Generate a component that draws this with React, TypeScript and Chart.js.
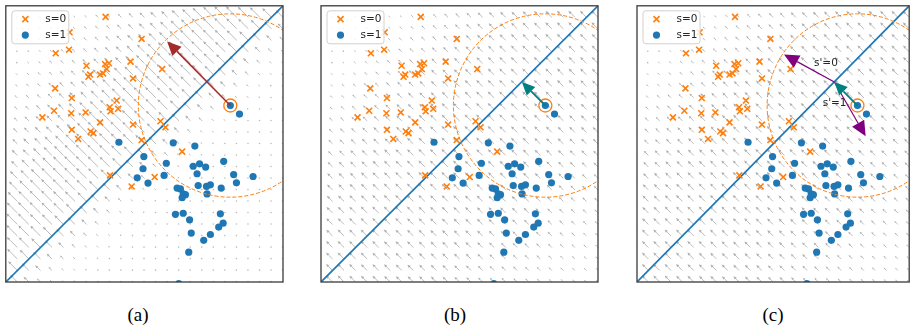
import React, { useEffect, useRef } from "react";
import { Chart, registerables } from "chart.js";

Chart.register(...registerables);

// ---------- data ----------
const group0X = [36.0, 23.0, 18.0, 22.8, 49.0, 29.1, 35.8, 37.2, 36.4, 45.0, 29.8, 30.4, 34.0, 35.1, 56.4, 45.9, 17.8, 23.8, 40.0, 37.5, 37.8, 40.5, 17.4, 23.6, 28.8, 13.2, 34.0, 45.9, 55.8, 57.6, 23.8, 30.6, 31.6, 26.1, 49.0, 63.6, 37.6, 53.7, 45.4];
const group0Y = [96.0, 90.4, 82.8, 84.1, 88.0, 78.3, 78.9, 79.2, 77.1, 79.8, 74.3, 75.1, 75.1, 75.5, 77.1, 73.7, 70.1, 66.6, 65.7, 63.3, 61.8, 62.7, 62.0, 61.1, 61.4, 59.6, 57.8, 57.0, 58.2, 56.0, 55.1, 54.5, 53.9, 51.8, 51.4, 47.2, 38.6, 38.0, 34.6];

const group1X = [81.0, 84.3, 40.8, 60.4, 68.2, 49.8, 78.6, 57.9, 67.6, 69.9, 72.1, 49.5, 69.0, 57.1, 82.2, 89.2, 47.4, 83.2, 51.3, 69.4, 72.4, 73.8, 77.7, 61.8, 63.0, 72.6, 64.0, 64.8, 63.6, 61.2, 64.0, 77.4, 66.3, 78.4, 76.8, 66.9, 73.8, 71.4, 66.0, 62.4];
const group1Y = [63.9, 60.8, 50.6, 50.4, 49.2, 45.4, 43.7, 43.0, 41.9, 42.8, 41.6, 41.0, 39.2, 38.6, 38.9, 38.2, 37.7, 35.9, 35.8, 34.9, 34.6, 35.2, 34.0, 34.0, 33.7, 31.9, 31.9, 31.6, 30.5, 24.5, 24.9, 24.7, 22.5, 21.3, 19.9, 17.7, 17.2, 15.1, 10.8, -0.6];

const boundaryX = [0, 100];
const boundaryY = [0, 100];

const axisMin = 0;
const axisMax = 100;

const highlightPoint = [81.0, 63.9];
const regionRadius = 33.2;

const arrowTipA = [58.2, 87.1];
const projectionPoint = [72.5, 72.4];
const counterfactual0 = [54.0, 82.4];
const counterfactual1 = [84.0, 52.8];

const noteLabels = ["s'=0", "s'=1"];
const notePositions = [
  [69.4, 79.3],
  [72.6, 64.7],
];

const legendLabels = ["s=0", "s=1"];
const panelLabels = ["(a)", "(b)", "(c)"];

// quiver grid: 25 x 25 points; magnitude per diagonal (row - col) from -24 .. 24
const gridCount = 25;
const quiverA = [
  0.4, 0.4, 0.4, 0.4, 0.4, 0.4, 0.4, 0.4, 0.4, 0.4, 0.4, 0.4, 0.4, 0.4, 0.4, 0.4, 0.4, 0.4,
  0.7, 0.9, 1.1, 1.8, 2.7, 3.6,
  4.7,
  5.2, 5.4, 5.6, 5.6, 5.4, 4.9, 4.3, 3.8, 3.2, 2.9, 2.5, 2.2, 1.8, 1.6, 1.4, 1.1, 0.9, 0.7, 0.5, 0.4, 0.4, 0.4, 0.4, 0.4,
];
const quiverB = [
  1.1, 1.2, 1.3, 1.4, 1.5, 1.7, 1.8, 1.9, 2.1, 2.2, 2.3, 2.4, 2.6, 2.7, 2.8, 2.9, 2.9, 3.0, 3.1, 3.2, 3.2, 3.2, 3.3, 3.3,
  3.3,
  3.3, 3.3, 3.2, 3.2, 3.1, 2.9, 2.8, 2.7, 2.5, 2.3, 2.1, 1.9, 1.7, 1.4, 1.2, 1.0, 0.9, 0.7, 0.6, 0.5, 0.4, 0.3, 0.3, 0.2,
];
const quiverC = [
  1.2, 1.3, 1.4, 1.5, 1.6, 1.7, 1.8, 2.0, 2.1, 2.2, 2.4, 2.5, 2.6, 2.7, 2.8, 2.9, 3.0, 3.1, 3.1, 3.2, 3.2, 3.3, 3.3, 3.3,
  3.3,
  3.3, 3.3, 3.3, 3.2, 3.1, 3.0, 2.9, 2.7, 2.6, 2.4, 2.2, 2.0, 1.8, 1.5, 1.3, 1.1, 0.9, 0.7, 0.6, 0.5, 0.4, 0.3, 0.3, 0.2,
];

// ---------- styles ----------
const ORANGE = "#ff7f0e";
const BLUE = "#1f77b4";
const TEXT = "#262626";

type ArrowSpec = { from: number[]; to: number[]; color: string; lw: number; headLen: number; headW: number };

const panels = [
  {
    left: 0,
    width: 292,
    pad: { left: 5, right: 9, top: 5, bottom: 8 },
    quiver: quiverA,
    arrows: [
      { from: highlightPoint, to: arrowTipA, color: "#a52a2a", lw: 1.5, headLen: 14, headW: 13 },
    ] as ArrowSpec[],
    notes: false,
    labelX: 138,
  },
  {
    left: 314,
    width: 290,
    pad: { left: 7, right: 6, top: 5, bottom: 8 },
    quiver: quiverB,
    arrows: [
      { from: highlightPoint, to: projectionPoint, color: "#008080", lw: 1.8, headLen: 13, headW: 12 },
    ] as ArrowSpec[],
    notes: false,
    labelX: 455,
  },
  {
    left: 630,
    width: 285,
    pad: { left: 7, right: 2, top: 5, bottom: 8 },
    quiver: quiverC,
    arrows: [
      { from: projectionPoint, to: counterfactual0, color: "#800080", lw: 1.2, headLen: 15, headW: 14 },
      { from: projectionPoint, to: counterfactual1, color: "#800080", lw: 1.2, headLen: 15, headW: 14 },
      { from: highlightPoint, to: projectionPoint, color: "#008080", lw: 1.8, headLen: 13, headW: 12 },
    ] as ArrowSpec[],
    notes: true,
    labelX: 773,
  },
];

function drawArrowPx(ctx: CanvasRenderingContext2D, x0: number, y0: number, x1: number, y1: number, color: string, lw: number, hl: number, hw: number) {
  const len = Math.hypot(x1 - x0, y1 - y0);
  if (len < 0.01) return;
  const ux = (x1 - x0) / len;
  const uy = (y1 - y0) / len;
  const h = Math.min(hl, len);
  const bx = x1 - ux * h;
  const by = y1 - uy * h;
  ctx.strokeStyle = color;
  ctx.fillStyle = color;
  ctx.lineWidth = lw;
  ctx.beginPath();
  ctx.moveTo(x0, y0);
  ctx.lineTo(bx, by);
  ctx.stroke();
  ctx.beginPath();
  ctx.moveTo(x1, y1);
  ctx.lineTo(bx - uy * hw / 2, by + ux * hw / 2);
  ctx.lineTo(bx + uy * hw / 2, by - ux * hw / 2);
  ctx.closePath();
  ctx.fill();
}

function makePlugin(cfg: typeof panels[number]) {
  return {
    id: "panelDecor",
    beforeDatasetsDraw(chart: any) {
      const { ctx, chartArea: a } = chart;
      const sx = chart.scales.x;
      const sy = chart.scales.y;
      ctx.save();
      ctx.beginPath();
      ctx.rect(a.left, a.top, a.right - a.left, a.bottom - a.top);
      ctx.clip();
      const n = gridCount;
      for (let i = 0; i < n; i++) {
        for (let j = 0; j < n; j++) {
          const gx = axisMin + ((axisMax - axisMin) * i) / (n - 1);
          const gy = axisMin + ((axisMax - axisMin) * j) / (n - 1);
          const m = cfg.quiver[j - i + n - 1];
          const d = m / Math.SQRT2;
          const x0 = sx.getPixelForValue(gx);
          const y0 = sy.getPixelForValue(gy);
          const x1 = sx.getPixelForValue(gx - d);
          const y1 = sy.getPixelForValue(gy + d);
          const len = Math.hypot(x1 - x0, y1 - y0);
          if (len < 2.2) {
            ctx.fillStyle = "rgba(120,120,120,0.5)";
            ctx.beginPath();
            ctx.arc((x0 + x1) / 2, (y0 + y1) / 2, 0.8, 0, Math.PI * 2);
            ctx.fill();
          } else {
            const hl = Math.min(3.2, len * 0.4);
            drawArrowPx(ctx, x0, y0, x1, y1, "rgba(95,95,95,0.5)", 0.85, hl, hl * 0.9);
          }
        }
      }
      ctx.restore();
    },
    afterDatasetsDraw(chart: any) {
      const { ctx, chartArea: a } = chart;
      const sx = chart.scales.x;
      const sy = chart.scales.y;
      ctx.save();
      ctx.beginPath();
      ctx.rect(a.left, a.top, a.right - a.left, a.bottom - a.top);
      ctx.clip();

      // dashed neighbourhood circle
      const cx = sx.getPixelForValue(highlightPoint[0]);
      const cy = sy.getPixelForValue(highlightPoint[1]);
      const rx = Math.abs(sx.getPixelForValue(highlightPoint[0] + regionRadius) - cx);
      const ry = Math.abs(sy.getPixelForValue(highlightPoint[1] + regionRadius) - cy);
      ctx.strokeStyle = ORANGE;
      ctx.lineWidth = 1;
      ctx.setLineDash([4, 2]);
      ctx.beginPath();
      ctx.ellipse(cx, cy, rx, ry, 0, 0, Math.PI * 2);
      ctx.stroke();
      ctx.setLineDash([]);

      // ring around highlighted point
      ctx.lineWidth = 1.3;
      ctx.beginPath();
      ctx.arc(cx, cy, 6.5, 0, Math.PI * 2);
      ctx.stroke();

      // arrows
      for (const ar of cfg.arrows) {
        drawArrowPx(
          ctx,
          sx.getPixelForValue(ar.from[0]),
          sy.getPixelForValue(ar.from[1]),
          sx.getPixelForValue(ar.to[0]),
          sy.getPixelForValue(ar.to[1]),
          ar.color,
          ar.lw,
          ar.headLen,
          ar.headW
        );
      }

      // notes
      if (cfg.notes) {
        ctx.fillStyle = TEXT;
        ctx.font = '10.5px "DejaVu Sans"';
        ctx.textAlign = "center";
        ctx.textBaseline = "middle";
        noteLabels.forEach((t, k) => {
          ctx.fillText(t, sx.getPixelForValue(notePositions[k][0]), sy.getPixelForValue(notePositions[k][1]));
        });
      }
      ctx.restore();

      // legend
      ctx.save();
      const lx = a.left + 6;
      const ly = a.top + 5;
      const lw = 57;
      const lh = 33;
      ctx.fillStyle = "rgba(255,255,255,0.82)";
      ctx.strokeStyle = "#d0d0d0";
      ctx.lineWidth = 1;
      ctx.beginPath();
      (ctx as any).roundRect(lx, ly, lw, lh, 3);
      ctx.fill();
      ctx.stroke();
      const mx = a.left + 19.5;
      const r1 = a.top + 13.3;
      const r2 = a.top + 29.3;
      ctx.strokeStyle = ORANGE;
      ctx.lineWidth = 1.6;
      ctx.beginPath();
      ctx.moveTo(mx - 3, r1 - 3);
      ctx.lineTo(mx + 3, r1 + 3);
      ctx.moveTo(mx - 3, r1 + 3);
      ctx.lineTo(mx + 3, r1 - 3);
      ctx.stroke();
      ctx.fillStyle = BLUE;
      ctx.beginPath();
      ctx.arc(mx, r2, 3.6, 0, Math.PI * 2);
      ctx.fill();
      ctx.fillStyle = TEXT;
      ctx.font = '10.5px "DejaVu Sans"';
      ctx.textAlign = "left";
      ctx.textBaseline = "middle";
      ctx.fillText(legendLabels[0], a.left + 39.5, r1 + 0.5);
      ctx.fillText(legendLabels[1], a.left + 39.5, r2 + 0.5);

      // frame
      ctx.strokeStyle = "#3a3a3a";
      ctx.lineWidth = 1.3;
      ctx.strokeRect(a.left, a.top, a.right - a.left, a.bottom - a.top);
      ctx.restore();
    },
  };
}

function Panel({ cfg }: { cfg: typeof panels[number] }) {
  const ref = useRef<HTMLCanvasElement | null>(null);
  useEffect(() => {
    if (!ref.current) return;
    const chart = new Chart(ref.current, {
      type: "scatter",
      data: {
        datasets: [
          {
            label: legendLabels[0],
            data: group0X.map((x, i) => ({ x, y: group0Y[i] })),
            pointStyle: "crossRot",
            pointRadius: 4.2,
            borderColor: ORANGE,
            backgroundColor: ORANGE,
            borderWidth: 1.6,
            clip: 0,
            order: 1,
          },
          {
            label: legendLabels[1],
            data: group1X.map((x, i) => ({ x, y: group1Y[i] })),
            pointStyle: "circle",
            pointRadius: 3.6,
            borderWidth: 0,
            backgroundColor: BLUE,
            borderColor: BLUE,
            clip: 0,
            order: 2,
          },
          {
            type: "line",
            label: "boundary",
            data: boundaryX.map((x, i) => ({ x, y: boundaryY[i] })),
            borderColor: BLUE,
            borderWidth: 1.7,
            pointRadius: 0,
            fill: false,
            clip: 0,
            order: 3,
          } as any,
        ],
      },
      options: {
        responsive: false,
        animation: false,
        devicePixelRatio: 1,
        events: [],
        layout: { padding: cfg.pad },
        scales: {
          x: { type: "linear", min: axisMin, max: axisMax, display: false },
          y: { type: "linear", min: axisMin, max: axisMax, display: false },
        },
        plugins: {
          legend: { display: false },
          tooltip: { enabled: false },
        },
      },
      plugins: [makePlugin(cfg)],
    });
    return () => chart.destroy();
  }, [cfg]);
  return (
    <canvas
      ref={ref}
      width={cfg.width}
      height={290}
      style={{ position: "absolute", left: cfg.left, top: 0, width: cfg.width, height: 290 }}
    />
  );
}

export default function App() {
  return (
    <div style={{ position: "absolute", left: 0, top: 0, width: 915, height: 330, background: "#fff" }}>
      {panels.map((p, i) => (
        <Panel key={i} cfg={p} />
      ))}
      {panels.map((p, i) => (
        <div
          key={"l" + i}
          style={{
            position: "absolute",
            left: p.labelX - 30,
            width: 60,
            top: 304,
            height: 22,
            lineHeight: "22px",
            textAlign: "center",
            fontFamily: '"Liberation Serif", serif',
            fontSize: 19,
            color: "#000",
          }}
        >
          {panelLabels[i]}
        </div>
      ))}
    </div>
  );
}
